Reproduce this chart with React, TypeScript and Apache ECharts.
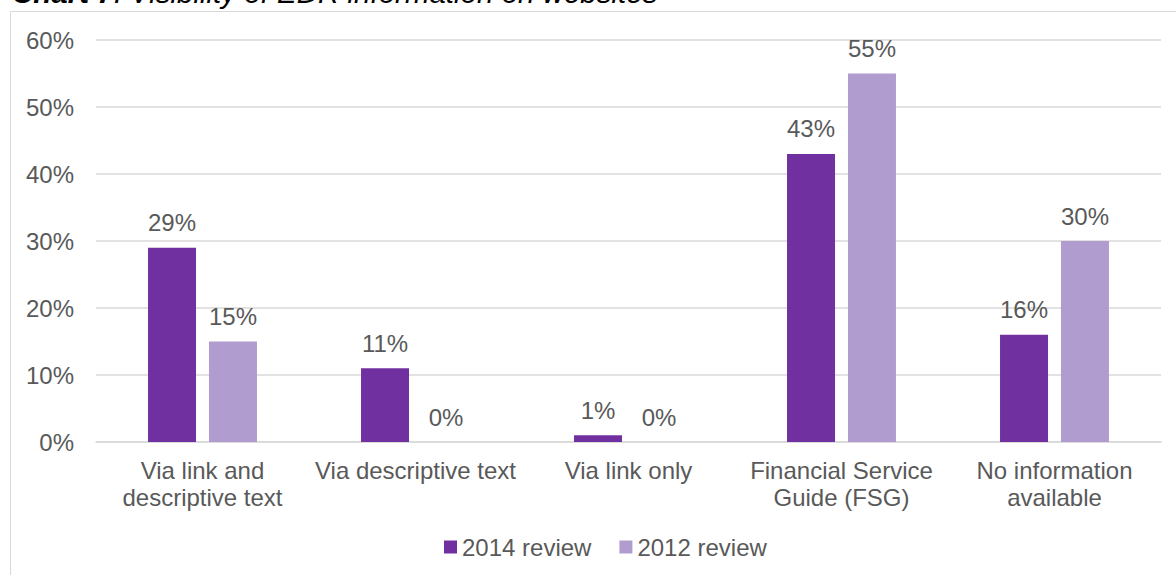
import React, { useEffect, useRef } from "react";
import * as echarts from "echarts";

const categories = [
  "Via link and\ndescriptive text",
  "Via descriptive text",
  "Via link only",
  "Financial Service\nGuide (FSG)",
  "No information\navailable",
];
const series2014 = [29, 11, 1, 43, 16];
const series2012 = [15, 0, 0, 55, 30];
const yTicks = [0, 10, 20, 30, 40, 50, 60];
const seriesNames = ["2014 review", "2012 review"];

const FONT = '"Liberation Sans", Arial, sans-serif';
const TEXT = "#595959";

export default function App() {
  const ref = useRef<HTMLDivElement>(null);
  useEffect(() => {
    if (!ref.current) return;
    const chart = echarts.init(ref.current, undefined, { renderer: "svg" });
    const labelCfg = {
      show: true,
      position: "top",
      distance: 13,
      formatter: (p: any) => p.value + "%",
      color: TEXT,
      fontSize: 24,
      fontFamily: FONT,
    };
    chart.setOption({
      animation: false,
      backgroundColor: "#ffffff",
      textStyle: { fontFamily: FONT },
      graphic: [
        {
          type: "rect",
          shape: { x: 10.5, y: 11.5, width: 1200, height: 600 },
          style: { fill: "none", stroke: "#d9d9d9", lineWidth: 1 },
          silent: true,
          z: -10,
        },
        {
          type: "text",
          x: 12,
          y: 7,
          style: {
            text: "{b|Chart 7}{n|: Visibility of EDR information on websites}",
            verticalAlign: "alphabetic",
            rich: {
              b: { fontSize: 29.5, fontWeight: "bold", fontStyle: "italic", fontFamily: FONT, fill: "#000" },
              n: { fontSize: 29.5, fontStyle: "italic", fontFamily: FONT, fill: "#000" },
            },
            textVerticalAlign: "bottom",
          },
        },
      ],
      legend: {
        data: seriesNames,
        bottom: 11,
        left: 439,
        itemWidth: 13,
        itemHeight: 13,
        itemGap: 28,
        icon: "rect",
        textStyle: { color: TEXT, fontSize: 24, fontFamily: FONT },
      },
      grid: { left: 96, right: 15, top: 40, bottom: 133, containLabel: false },
      xAxis: {
        type: "category",
        data: categories,
        axisLine: { show: true, lineStyle: { color: "#d9d9d9", width: 1.5 } },
        axisTick: { show: false },
        axisLabel: {
          color: TEXT,
          fontSize: 24,
          fontFamily: FONT,
          margin: 15,
          lineHeight: 27,
          interval: 0,
        },
      },
      yAxis: {
        type: "value",
        min: yTicks[0],
        max: yTicks[yTicks.length - 1],
        interval: 10,
        axisLine: { show: false },
        axisTick: { show: false },
        splitLine: { lineStyle: { color: "#d9d9d9", width: 1.5 } },
        axisLabel: {
          color: TEXT,
          fontSize: 24,
          fontFamily: FONT,
          margin: 22,
          formatter: (v: number) => v + "%",
        },
      },
      series: [
        {
          name: seriesNames[0],
          type: "bar",
          data: series2014,
          barWidth: 48,
          barGap: "27%",
          itemStyle: { color: "#7030a0" },
          label: labelCfg,
        },
        {
          name: seriesNames[1],
          type: "bar",
          data: series2012,
          barWidth: 48,
          barGap: "27%",
          itemStyle: { color: "#b19ccf" },
          label: labelCfg,
        },
      ],
    });
    return () => chart.dispose();
  }, []);
  return (
    <div
      ref={ref}
      style={{ position: "fixed", left: 0, top: 0, width: 1176, height: 575 }}
    />
  );
}
